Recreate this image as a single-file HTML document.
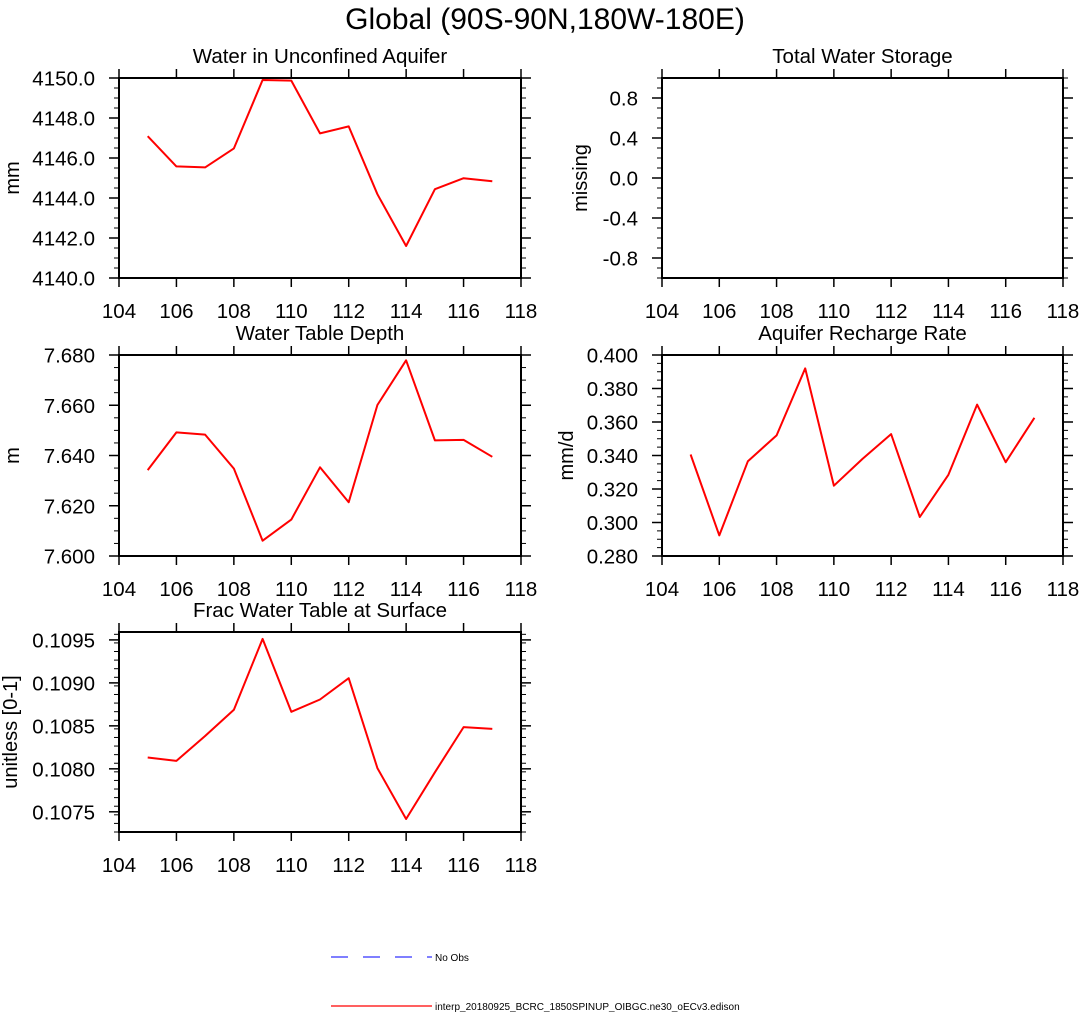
<!DOCTYPE html>
<html><head><meta charset="utf-8">
<style>
html,body{margin:0;padding:0;background:#fff;}
svg{display:block;font-family:"Liberation Sans",Arial,sans-serif;}
</style></head>
<body>
<svg id="fig" width="1080" height="1012" viewBox="0 0 1080 1012">
<text x="545" y="29" font-size="30" text-anchor="middle">Global (90S-90N,180W-180E)</text>
<g>
<line x1="331" y1="957" x2="432" y2="957" stroke="#3333ff" stroke-width="1.2" stroke-dasharray="17,15"/>
<text x="435" y="961" font-size="10">No Obs</text>
<line x1="331" y1="1006" x2="432" y2="1006" stroke="#ff0000" stroke-width="1.2"/>
<text x="435" y="1010" font-size="10">interp_20180925_BCRC_1850SPINUP_OIBGC.ne30_oECv3.edison</text>
</g>
</svg>
<script>
const years = [105,106,107,108,109,110,111,112,113,114,115,116,117];
const xTicks = [104,106,108,110,112,114,116,118];
const aquiferWater = [4147.09,4145.58,4145.53,4146.48,4149.9,4149.87,4147.23,4147.58,4144.19,4141.6,4144.44,4144.99,4144.84];
const aquiferTicks = ["4140.0","4142.0","4144.0","4146.0","4148.0","4150.0"];
const totalStorage = [];
const storageTicks = ["-0.8","-0.4","0.0","0.4","0.8"];
const tableDepth = [7.6342,7.6492,7.6483,7.6348,7.6061,7.6145,7.6353,7.6214,7.6601,7.6779,7.6460,7.6462,7.6395];
const depthTicks = ["7.600","7.620","7.640","7.660","7.680"];
const rechargeRate = [0.3406,0.2923,0.3366,0.352,0.392,0.322,0.338,0.3528,0.3033,0.3285,0.3704,0.336,0.3625];
const rechargeTicks = ["0.280","0.300","0.320","0.340","0.360","0.380","0.400"];
const fracSurface = [0.108132,0.108092,0.108382,0.108688,0.109512,0.108664,0.108807,0.109054,0.108008,0.107416,0.10796,0.108485,0.108465];
const fracTicks = ["0.1075","0.1080","0.1085","0.1090","0.1095"];

const NS = "http://www.w3.org/2000/svg";
const svg = document.getElementById("fig");
function mk(tag, attrs, parent){
  const e = document.createElementNS(NS, tag);
  for (const k in attrs) e.setAttribute(k, attrs[k]);
  parent.appendChild(e);
  return e;
}
function panel(key, title, ylab, lx, x0, x1, y0, y1, ymin, ymax, ticks, minorStep, values){
  const g = mk("g", {}, svg);
  
  
  const xs = v => x0 + (v - 104) / 14 * (x1 - x0);
  const ys = v => y1 - (v - ymin) / (ymax - ymin) * (y1 - y0);
  xTicks.forEach(t => {
    const X = xs(t);
    mk("line", {x1:X, y1:y1, x2:X, y2:y1+9, stroke:"#000","stroke-width":1.5}, g);
    mk("line", {x1:X, y1:y0, x2:X, y2:y0-9, stroke:"#000","stroke-width":1.5}, g);
    const tl = mk("text", {x:X, y:y1+40, "font-size":20.5, "text-anchor":"middle"}, g);
    tl.textContent = t;
    
    
  });
  const n = Math.round((ymax - ymin) / minorStep);
  for (let i = 0; i <= n; i++){
    const v = ymin + i * minorStep;
    const Y = ys(v);
    if (Y < y0 - 0.5 || Y > y1 + 0.5) continue;
    mk("line", {x1:x0, y1:Y, x2:x0-5, y2:Y, stroke:"#000","stroke-width":1}, g);
    mk("line", {x1:x1, y1:Y, x2:x1+5, y2:Y, stroke:"#000","stroke-width":1}, g);
  }
  ticks.forEach(t => {
    const Y = ys(parseFloat(t));
    mk("line", {x1:x0, y1:Y, x2:x0-10, y2:Y, stroke:"#000","stroke-width":1.5}, g);
    mk("line", {x1:x1, y1:Y, x2:x1+10, y2:Y, stroke:"#000","stroke-width":1.5}, g);
    const tl = mk("text", {x:x0-24, y:Y+7.5, "font-size":20.5, "text-anchor":"end"}, g);
    tl.textContent = t;
    
    
  });
  const fr = mk("rect", {x:x0, y:y0, width:x1-x0, height:y1-y0, fill:"none", stroke:"#000","stroke-width":2}, g);
  
  
  const tt = mk("text", {x:(x0+x1)/2, y:y0-15, "font-size":20.5, "text-anchor":"middle"}, g);
  tt.textContent = title;
  
  
  const cy = (y0+y1)/2;
  const yl = mk("text", {x:lx, y:cy, "font-size":20, "text-anchor":"middle", transform:"rotate(-90 "+lx+" "+cy+")"}, g);
  yl.textContent = ylab;
  
  
  if (values.length){
    const pts = values.map((v,i) => xs(years[i]).toFixed(1) + "," + ys(v).toFixed(1)).join(" ");
    const pl = mk("polyline", {points:pts, fill:"none", stroke:"#ff0000","stroke-width":2,"stroke-linejoin":"round"}, g);
    
    
  }
}
panel("panel-aquifer","Water in Unconfined Aquifer","mm",19,119,521,78,278,4140,4150,aquiferTicks,0.5,aquiferWater);
panel("panel-storage","Total Water Storage","missing",587,662,1063,78,278,-1,1,storageTicks,0.1,totalStorage);
panel("panel-depth","Water Table Depth","m",19,119,521,355,556,7.6,7.68,depthTicks,0.005,tableDepth);
panel("panel-recharge","Aquifer Recharge Rate","mm/d",573,662,1063,355,556,0.28,0.4,rechargeTicks,0.005,rechargeRate);
panel("panel-frac","Frac Water Table at Surface","unitless [0-1]",17,119,521,632,832,0.107265,0.109592,fracTicks,0.0001,fracSurface);
</script>
</body></html>
